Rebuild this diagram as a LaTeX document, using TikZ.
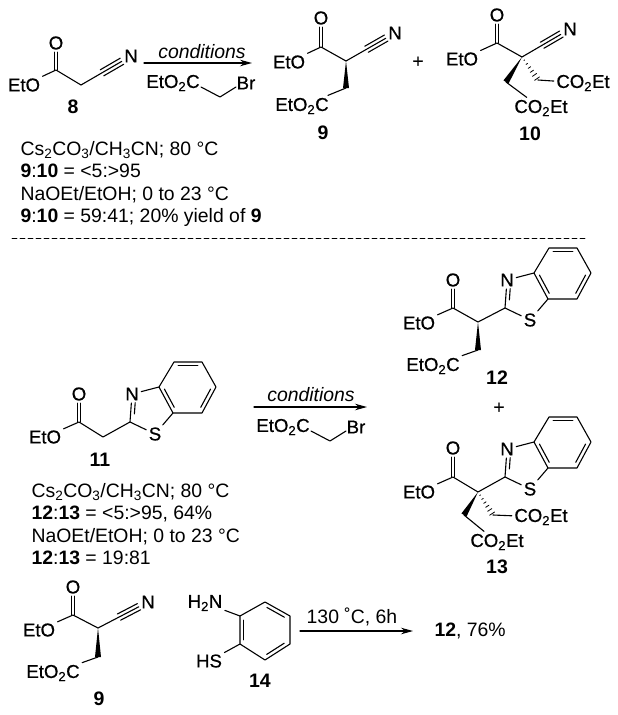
\documentclass[tikz,border=0pt]{standalone}
\usepackage{fontspec}
\setmainfont{Liberation Sans}
\newfontfamily\atomfont[FakeBold=0.6]{Liberation Sans}
\usetikzlibrary{arrows.meta,calc}
\tikzset{
	atom/.style={font=\fontsize{18.6}{20}\selectfont\atomfont, inner sep=2pt},
	tag/.style={font=\fontsize{19.5}{20}\selectfont\bfseries, inner sep=0pt},
	note/.style={font=\fontsize{19.4}{22.2}\selectfont, inner sep=0pt, anchor=north west, align=left},
	cond/.style={font=\fontsize{19.4}{22}\selectfont\itshape, inner sep=0pt},
}
\newcommand{\innerbond}[3][.15]{\draw ($(#2)!#1!(#3)!3.8pt!-90:(#3)$)--($(#3)!#1!(#2)!3.8pt!90:(#2)$);}
\newcommand{\carbonyl}[2]{\draw ([xshift=-1.7pt]#1)--([xshift=-1.7pt]#2.south) ([xshift=1.7pt]#1)--([xshift=1.7pt]#2.south);}
\newcommand{\triplebond}[2]{\draw (#1)--(#2);
	\draw ($(#1)!.42!(#2)!3.5pt!90:(#2)$)--($(#1)!.82!(#2)!3.5pt!90:(#2)$);
	\draw ($(#1)!.42!(#2)!3.5pt!-90:(#2)$)--($(#1)!.82!(#2)!3.5pt!-90:(#2)$);}
\newcommand{\wedgebond}[2]{\fill (#1)--($(#2)!3pt!90:(#1)$)--($(#2)!3pt!-90:(#1)$)--cycle;}
\newcommand{\hashbond}[2]{\foreach \ff in {.14,.3,.46,.62,.78,.94}
	\draw[line width=.8pt] ($(#1)!\ff!(#2)!\ff*3.2pt!90:(#2)$)--($(#1)!\ff!(#2)!\ff*3.2pt!-90:(#2)$);}
\newcommand{\benzothiazole}[3]{%
	\begin{scope}[shift={(#2,#3)}]
	\path
	(0,0) coordinate (C#1)
	(2,-28) node[atom] (N#1) {N}
	(25,12) node[atom] (S#1) {S}
	(29,-35) coordinate (ra#1)
	(44,-60) coordinate (rb#1)
	(72,-60) coordinate (rc#1)
	(86,-35) coordinate (rd#1)
	(72,-9) coordinate (re#1)
	(43,-9) coordinate (rf#1)
	;
	\end{scope}
	\draw (C#1)--(N#1)--(ra#1)--(rb#1)--(rc#1)--(rd#1)--(re#1)--(rf#1)--(S#1)--(C#1) (ra#1)--(rf#1);
	\innerbond[.3]{C#1}{N#1}
	\innerbond{rb#1}{rc#1}
	\innerbond{rd#1}{re#1}
	\innerbond{rf#1}{ra#1}
}
\newcommand{\bromide}[3]{%
	\path
	(#2,#3) node[atom] (EB#1) {EtO\textsubscript{2}C}
	(#2+73,#3) node[atom] (Br#1) {Br}
	(#2+28,#3+4) coordinate (Ba#1)
	(#2+47,#3+14) coordinate (Bb#1)
	(#2+63,#3+4) coordinate (Bc#1)
	;
	\draw (Ba#1)--(Bb#1)--(Bc#1);
}
\begin{document}
\begin{tikzpicture}[x=1pt, y=-1pt, line width=1.1pt, line join=round, line cap=round, >={Stealth[length=12pt,width=6.5pt]}]
	\useasboundingbox (0,0) rectangle (618,715);
	% compound 8
	\path
	(56,43) node[atom] (O8) {O}
	(56,70) coordinate (Ca8)
	(24,85) node[atom] (E8) {EtO}
	(81,85) coordinate (Cb8)
	(131,56) node[atom] (N8) {N}
	(73,107) node[tag] (t8) {8}
	;
	\carbonyl{Ca8}{O8}
	\draw (E8)--(Ca8)--(Cb8);
	\triplebond{Cb8}{N8}
	% first arrow
	\path (144,63) coordinate (a1) (252,63) coordinate (a2);
	\draw[->] (a1)--(a2);
	\node[cond] (c1) at (202,52) {conditions};
	\bromide{1}{173}{83}
	% compound 9
	\path
	(321,18) node[atom] (O9) {O}
	(321,47) coordinate (Ca9)
	(289,62) node[atom] (E9) {EtO}
	(346,61) coordinate (Cb9)
	(395,33) node[atom] (N9) {N}
	(346,88) coordinate (Cc9)
	(302,106) node[atom] (F9) {EtO\textsubscript{2}C}
	(323,133) node[tag] (t9) {9}
	(418,62) node[atom] (plus1) {+}
	;
	\carbonyl{Ca9}{O9}
	\draw (E9)--(Ca9)--(Cb9) (Cc9)--(F9);
	\triplebond{Cb9}{N9}
	\wedgebond{Cb9}{Cc9}
	% compound 10
	\path
	(497,15) node[atom] (O10) {O}
	(497,43) coordinate (Ca10)
	(462,59) node[atom] (E10) {EtO}
	(522,57) coordinate (Cb10)
	(570,29) node[atom] (N10) {N}
	(506,82) coordinate (Cc10)
	(538,80) coordinate (Cd10)
	(541,108) node[atom] (F10) {CO\textsubscript{2}Et}
	(583,83) node[atom] (G10) {CO\textsubscript{2}Et}
	(530,134) node[tag] (t10) {10}
	;
	\carbonyl{Ca10}{O10}
	\draw (E10)--(Ca10)--(Cb10) (Cc10)--(F10) (Cd10)--(G10);
	\triplebond{Cb10}{N10}
	\wedgebond{Cb10}{Cc10}
	\hashbond{Cb10}{Cd10}
	% first notes
	\node[note] (n1) at (20,141) {Cs\textsubscript{2}CO\textsubscript{3}/CH\textsubscript{3}CN; 80 °C\\
		\textbf{9}:\textbf{10} = <5:>95\\
		NaOEt/EtOH; 0 to 23 °C\\
		\textbf{9}:\textbf{10} = 59:41; 20\% yield of \textbf{9}};
	\path (12,238) coordinate (d1) (585,238) coordinate (d2);
	\draw[line width=.8pt, dash pattern=on 5pt off 3pt] (d1)--(d2);
	% compound 11
	\path
	(79,394) node[atom] (O11) {O}
	(79,422) coordinate (Ca11)
	(45,437) node[atom] (E11) {EtO}
	(103,437) coordinate (Cb11)
	(100,460) node[tag] (t11) {11}
	;
	\benzothiazole{11}{130}{422}
	\carbonyl{Ca11}{O11}
	\draw (E11)--(Ca11)--(Cb11)--(C11);
	% second arrow
	\path (254,407) coordinate (a3) (367,407) coordinate (a4);
	\draw[->] (a3)--(a4);
	\node[cond] (c2) at (311,395) {conditions};
	\bromide{2}{283}{427}
	% compound 12
	\path
	(453,280) node[atom] (O12) {O}
	(453,308) coordinate (Ca12)
	(419,323) node[atom] (E12) {EtO}
	(478,322) coordinate (Cb12)
	(478,350) coordinate (Cc12)
	(433,366) node[atom] (F12) {EtO\textsubscript{2}C}
	(497,378) node[tag] (t12) {12}
	(499,408) node[atom] (plus2) {+}
	;
	\benzothiazole{12}{505}{308}
	\carbonyl{Ca12}{O12}
	\draw (E12)--(Ca12)--(Cb12)--(C12) (Cc12)--(F12);
	\wedgebond{Cb12}{Cc12}
	% compound 13
	\path
	(453,448) node[atom] (O13) {O}
	(453,477) coordinate (Ca13)
	(419,492) node[atom] (E13) {EtO}
	(478,492) coordinate (Cb13)
	(464,515) coordinate (Cc13)
	(493,515) coordinate (Cd13)
	(497,542) node[atom] (F13) {CO\textsubscript{2}Et}
	(541,517) node[atom] (G13) {CO\textsubscript{2}Et}
	(497,567) node[tag] (t13) {13}
	;
	\benzothiazole{13}{505}{477}
	\carbonyl{Ca13}{O13}
	\draw (E13)--(Ca13)--(Cb13)--(C13) (Cc13)--(F13) (Cd13)--(G13);
	\wedgebond{Cb13}{Cc13}
	\hashbond{Cb13}{Cd13}
	% second notes
	\node[note] (n2) at (31,483) {Cs\textsubscript{2}CO\textsubscript{3}/CH\textsubscript{3}CN; 80 °C\\
		\textbf{12}:\textbf{13} = <5:>95, 64\%\\
		NaOEt/EtOH; 0 to 23 °C\\
		\textbf{12}:\textbf{13} = 19:81};
	% compound 9 again
	\path
	(73,587) node[atom] (O9b) {O}
	(73,615) coordinate (Ca9b)
	(39,630) node[atom] (E9b) {EtO}
	(98,628) coordinate (Cb9b)
	(148,602) node[atom] (N9b) {N}
	(98,657) coordinate (Cc9b)
	(53,673) node[atom] (F9b) {EtO\textsubscript{2}C}
	(99,699) node[tag] (t9b) {9}
	;
	\carbonyl{Ca9b}{O9b}
	\draw (E9b)--(Ca9b)--(Cb9b) (Cc9b)--(F9b);
	\triplebond{Cb9b}{N9b}
	\wedgebond{Cb9b}{Cc9b}
	% compound 14
	\path
	(205,603) node[atom] (A14) {H\textsubscript{2}N}
	(209,661) node[atom] (B14) {HS}
	(240,616) coordinate (ra14)
	(265,602) coordinate (rb14)
	(290,616) coordinate (rc14)
	(290,644) coordinate (rd14)
	(265,660) coordinate (re14)
	(240,644) coordinate (rf14)
	(260,681) node[tag] (t14) {14}
	;
	\draw (ra14)--(rb14)--(rc14)--(rd14)--(re14)--(rf14)--cycle (A14)--(ra14) (rf14)--(B14);
	\innerbond{rb14}{rc14}
	\innerbond{rd14}{re14}
	\innerbond{rf14}{ra14}
	% last arrow
	\path (300,631) coordinate (a5) (413,631) coordinate (a6);
	\draw[->] (a5)--(a6);
	\node[cond, font=\fontsize{19.4}{22}\selectfont] (c3) at (352,617) {130 ˚C, 6h};
	\node[cond, font=\fontsize{19.4}{22}\selectfont, anchor=west] (p12) at (434,631) {\textbf{12}, 76\%};
\end{tikzpicture}
\end{document}
